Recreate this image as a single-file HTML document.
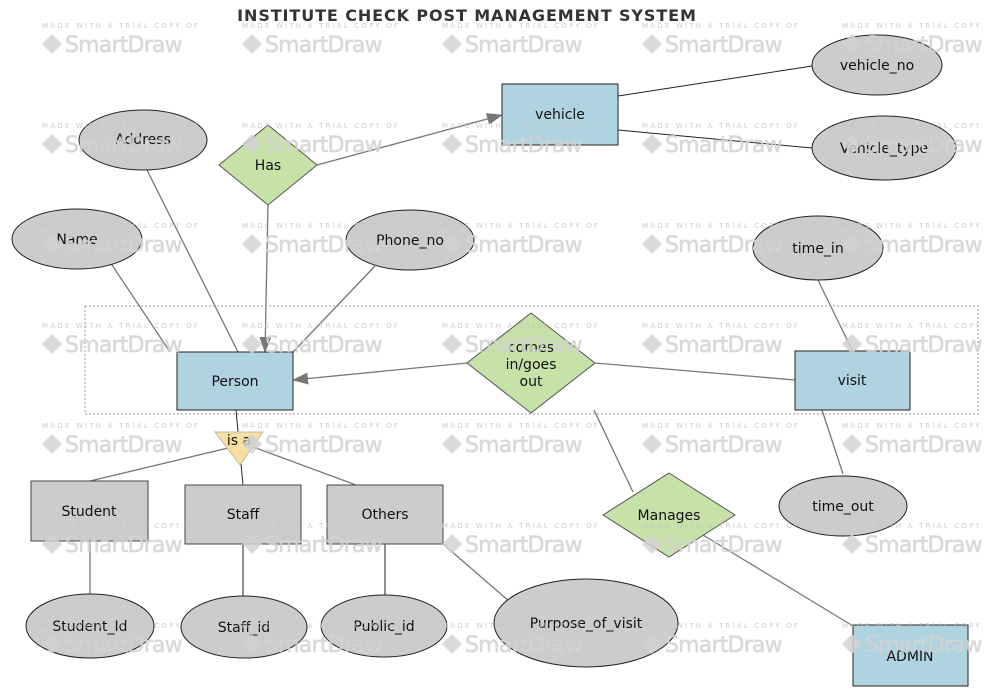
<!DOCTYPE html>
<html><head><meta charset="utf-8"><style>
html,body{margin:0;padding:0;background:#fff;}
svg{display:block;}
text{font-family:"DejaVu Sans","Liberation Sans",sans-serif;}
.t{font-size:14px;fill:#111;text-anchor:middle;}
.e{fill:#cccccc;stroke:#222;stroke-width:1;}
.b{fill:#b0d3e0;stroke:#222;stroke-width:1;}
.g{fill:#cccccc;stroke:#444;stroke-width:1;}
.d{fill:#c6e2a9;stroke:#555;stroke-width:1;}
.l{stroke:#777;stroke-width:1.3;fill:none;}
.k{stroke:#222;stroke-width:1;fill:none;}
.wm1{font-size:7px;letter-spacing:2.2px;fill:#c4c4c4;}
.wm2{font-size:22px;fill:#d2d2d2;letter-spacing:-0.8px;stroke:#d2d2d2;stroke-width:0.6px;}
</style></head><body>
<svg width="984" height="691" viewBox="0 0 984 691" xmlns="http://www.w3.org/2000/svg">
<defs>
<marker id="ar" markerWidth="16" markerHeight="12" refX="15" refY="6" orient="auto" markerUnits="userSpaceOnUse">
<path d="M0,0 L16,6 L0,12 z" fill="#777"/></marker>
<g id="wm">
<text class="wm1" x="0" y="0">MADE WITH A TRIAL COPY OF</text>
<path d="M10,6 L20,16 L10,26 L0,16 z" fill="#d2d2d2"/>
<text class="wm2" x="23" y="24">SmartDraw</text>
</g>
</defs>
<text x="467" y="21" text-anchor="middle" style="font-family:'DejaVu Sans',sans-serif;font-weight:bold;font-size:16px;letter-spacing:0.9px;fill:#333">INSTITUTE CHECK POST MANAGEMENT SYSTEM</text>

<line class="k" x1="618" y1="96" x2="812" y2="66"/>
<line class="k" x1="618" y1="130" x2="812" y2="148"/>
<line class="l" x1="147" y1="170" x2="238" y2="352"/>
<line class="l" x1="268" y1="205" x2="265" y2="352" marker-end="url(#ar)"/>
<line class="l" x1="317" y1="165" x2="502" y2="115" marker-end="url(#ar)"/>
<line class="l" x1="110" y1="262" x2="170" y2="352"/>
<line class="l" x1="375" y1="266" x2="293" y2="352"/>
<line class="l" x1="467" y1="363" x2="293" y2="380" marker-end="url(#ar)"/>
<line class="l" x1="595" y1="363" x2="795" y2="380"/>
<line class="l" x1="818" y1="280" x2="853" y2="352"/>
<line class="l" x1="822" y1="410" x2="843" y2="474"/>
<line class="l" x1="594" y1="410" x2="633" y2="492"/>
<line class="l" x1="703" y1="535" x2="853" y2="626"/>
<line class="k" x1="236" y1="410" x2="243" y2="485"/>
<line class="l" x1="228" y1="448" x2="90" y2="481"/>
<line class="l" x1="253" y1="447" x2="356" y2="485"/>
<line class="l" x1="90" y1="541" x2="90" y2="594"/>
<line class="k" x1="243" y1="544" x2="243" y2="596"/>
<line class="k" x1="385" y1="544" x2="385" y2="595"/>
<line class="l" x1="443" y1="544" x2="510" y2="602"/>

<rect x="85" y="306" width="893" height="108" fill="none" stroke="#999" stroke-width="1" stroke-dasharray="2,2"/>

<rect class="b" x="502" y="84" width="116" height="61"/><text class="t" x="560" y="119">vehicle</text>
<ellipse class="e" cx="877" cy="65" rx="65" ry="30"/><text class="t" x="877" y="70">vehicle_no</text>
<ellipse class="e" cx="884" cy="148" rx="72" ry="32"/><text class="t" x="884" y="153">Vehicle_type</text>
<ellipse class="e" cx="143" cy="140" rx="64" ry="30"/><text class="t" x="143" y="144">Address</text>
<path class="d" d="M268,125 L317,165 L268,205 L219,165 z"/><text class="t" x="268" y="170">Has</text>
<ellipse class="e" cx="77" cy="239" rx="65" ry="30"/><text class="t" x="77" y="244">Name</text>
<ellipse class="e" cx="410" cy="240" rx="64" ry="30"/><text class="t" x="410" y="245">Phone_no</text>
<ellipse class="e" cx="818" cy="248" rx="65" ry="32"/><text class="t" x="818" y="253">time_in</text>
<rect class="b" x="177" y="352" width="116" height="58"/><text class="t" x="235" y="386">Person</text>
<path class="d" d="M531,313 L595,363 L531,413 L467,363 z"/>
<text class="t" x="531" y="352">comes</text><text class="t" x="531" y="369">in/goes</text><text class="t" x="531" y="386">out</text>
<rect class="b" x="795" y="351" width="115" height="59"/><text class="t" x="852" y="385">visit</text>
<path d="M215,432 L263,432 L240,465 z" fill="#f7dfa2" stroke="#bba" stroke-width="1"/><text class="t" x="239" y="445">is a</text>
<rect class="g" x="31" y="481" width="117" height="60"/><text class="t" x="89" y="516">Student</text>
<rect class="g" x="185" y="485" width="116" height="59"/><text class="t" x="243" y="519">Staff</text>
<rect class="g" x="327" y="485" width="116" height="59"/><text class="t" x="385" y="519">Others</text>
<ellipse class="e" cx="843" cy="506" rx="64" ry="30"/><text class="t" x="843" y="511">time_out</text>
<path class="d" d="M669,473 L735,515 L669,557 L603,515 z"/><text class="t" x="669" y="520">Manages</text>
<ellipse class="e" cx="90" cy="626" rx="64" ry="32"/><text class="t" x="90" y="631">Student_Id</text>
<ellipse class="e" cx="244" cy="627" rx="63" ry="31"/><text class="t" x="244" y="632">Staff_id</text>
<ellipse class="e" cx="384" cy="626" rx="63" ry="31"/><text class="t" x="384" y="631">Public_id</text>
<ellipse class="e" cx="586" cy="623" rx="92" ry="44"/><text class="t" x="586" y="628">Purpose_of_visit</text>
<rect class="b" x="853" y="625" width="115" height="61"/><text class="t" x="910" y="661">ADMIN</text>

<g opacity="0.85">
<use href="#wm" x="42" y="28"/><use href="#wm" x="242" y="28"/><use href="#wm" x="442" y="28"/><use href="#wm" x="642" y="28"/><use href="#wm" x="842" y="28"/>
<use href="#wm" x="42" y="128"/><use href="#wm" x="242" y="128"/><use href="#wm" x="442" y="128"/><use href="#wm" x="642" y="128"/><use href="#wm" x="842" y="128"/>
<use href="#wm" x="42" y="228"/><use href="#wm" x="242" y="228"/><use href="#wm" x="442" y="228"/><use href="#wm" x="642" y="228"/><use href="#wm" x="842" y="228"/>
<use href="#wm" x="42" y="328"/><use href="#wm" x="242" y="328"/><use href="#wm" x="442" y="328"/><use href="#wm" x="642" y="328"/><use href="#wm" x="842" y="328"/>
<use href="#wm" x="42" y="428"/><use href="#wm" x="242" y="428"/><use href="#wm" x="442" y="428"/><use href="#wm" x="642" y="428"/><use href="#wm" x="842" y="428"/>
<use href="#wm" x="42" y="528"/><use href="#wm" x="242" y="528"/><use href="#wm" x="442" y="528"/><use href="#wm" x="642" y="528"/><use href="#wm" x="842" y="528"/>
<use href="#wm" x="42" y="628"/><use href="#wm" x="242" y="628"/><use href="#wm" x="442" y="628"/><use href="#wm" x="642" y="628"/><use href="#wm" x="842" y="628"/>
</g>
</svg>
</body></html>
